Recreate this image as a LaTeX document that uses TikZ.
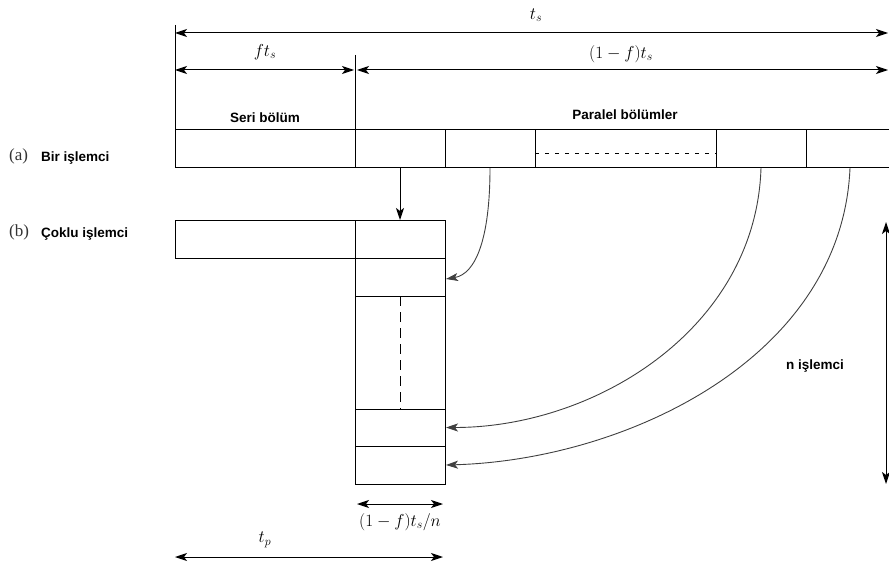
\documentclass[tikz,border=0pt]{standalone}
\usepackage{fontspec}
\setmainfont{Liberation Serif}
\setsansfont{Liberation Sans}
\usetikzlibrary{arrows.meta}
\tikzset{
  cell/.style={draw, line width=1pt, inner sep=0pt, outer sep=0pt},
  dim/.style={line width=1pt, {Stealth[length=12pt,width=8pt,inset=3pt]}-{Stealth[length=12pt,width=8pt,inset=3pt]}},
  arr/.style={line width=1pt, -{Stealth[length=12pt,width=8pt,inset=3pt]}},
  curv/.style={line width=0.9pt, draw=black!75, -{Stealth[length=12pt,width=8pt,inset=3pt]}},
  tick/.style={line width=1pt},
  lab/.style={font=\sffamily\bfseries\fontsize{13.5}{16}\selectfont, inner sep=1pt},
  mlab/.style={font=\fontsize{17}{20}\selectfont, inner sep=1pt},
  plab/.style={font=\fontsize{17}{20}\selectfont, text=black!80, inner sep=0pt},
}
\begin{document}
\begin{tikzpicture}[x=1pt, y=-1pt]
\useasboundingbox (0,0) rectangle (889,567);
% row (a)
\node[cell, minimum width=180pt, minimum height=38pt] (s1) at (265,149) {};
\node[cell, minimum width=90pt, minimum height=38pt] (p1) at (400,149) {};
\node[cell, minimum width=90pt, minimum height=38pt] (p2) at (490,149) {};
\node[cell, minimum width=181pt, minimum height=38pt] (pd) at (625.5,149) {};
\node[cell, minimum width=90pt, minimum height=38pt] (p3) at (761,149) {};
\node[cell, minimum width=90pt, minimum height=38pt] (p4) at (851,149) {};
\draw[line width=0.8pt, dashed, dash pattern=on 4pt off 6pt] ([yshift=-4pt]pd.west) -- ([yshift=-4pt]pd.east);
% row (b)
\node[cell, minimum width=180pt, minimum height=38pt] (b1) at (265,239) {};
\node[cell, minimum width=90pt, minimum height=38pt] (b2) at (400,239) {};
\node[cell, minimum width=90pt, minimum height=38pt] (c1) at (400,277) {};
\node[cell, minimum width=90pt, minimum height=113pt] (cd) at (400,352.5) {};
\node[cell, minimum width=90pt, minimum height=37pt] (c3) at (400,427.5) {};
\node[cell, minimum width=90pt, minimum height=38pt] (c4) at (400,465) {};
\draw[line width=0.8pt, dashed, dash pattern=on 10pt off 6pt] (cd.north) -- (cd.south);
% dimension ticks
\coordinate (tl) at (175,25);
\coordinate (tm) at (355,55);
\draw[tick] (tl) -- (s1.north west);
\draw[tick] (tm) -- (s1.north east);
% dimension arrows
\coordinate (tsL) at (175,33);
\coordinate (tsR) at (888,33);
\draw[dim] (tsL) -- (tsR);
\coordinate (fL) at (175,70);
\coordinate (fR) at (354,70);
\draw[dim] (fL) -- (fR);
\coordinate (gL) at (357,70);
\coordinate (gR) at (888,70);
\draw[dim] (gL) -- (gR);
\coordinate (nT) at (886,222);
\coordinate (nB) at (886,484);
\draw[dim] (nT) -- (nB);
\coordinate (wL) at (357,504);
\coordinate (wR) at (443,504);
\draw[dim] (wL) -- (wR);
\coordinate (tpL) at (175,557);
\coordinate (tpR) at (443,557);
\draw[dim] (tpL) -- (tpR);
% connectors
\draw[arr] (p1.south) -- (b2.north);
\draw[curv] (p2.south) .. controls +(0,70) and +(30,-5) .. ([xshift=1pt,yshift=-2pt]c1.east);
\draw[curv] (p3.south) .. controls +(-5,160) and +(150,0) .. ([xshift=1pt]c3.east);
\draw[curv] ([xshift=-1pt]p4.south) .. controls +(-8,190) and +(180,-5) .. ([xshift=1pt]c4.east);
% labels
\node[mlab] (lts) at (536,15) {$t_s$};
\node[mlab] (lfts) at (265,52) {$ft_s$};
\node[mlab] (lgts) at (621,54) {$(1-f)t_s$};
\node[lab] (lseri) at (265,118) {Seri bölüm};
\node[lab] (lpar) at (625,115) {Paralel bölümler};
\node[plab, anchor=west] (la) at (9,156) {(a)};
\node[lab, anchor=west, inner sep=0pt] (la2) at (41,158) {Bir işlemci};
\node[plab, anchor=west] (lb) at (9,232) {(b)};
\node[lab, anchor=west, inner sep=0pt] (lb2) at (41,234) {Çoklu işlemci};
\node[lab] (ln) at (815,366) {n işlemci};
\node[mlab] (lw) at (400,522) {$(1-f)t_s/n$};
\node[mlab] (ltp) at (265,540) {$t_p$};
\end{tikzpicture}
\end{document}
